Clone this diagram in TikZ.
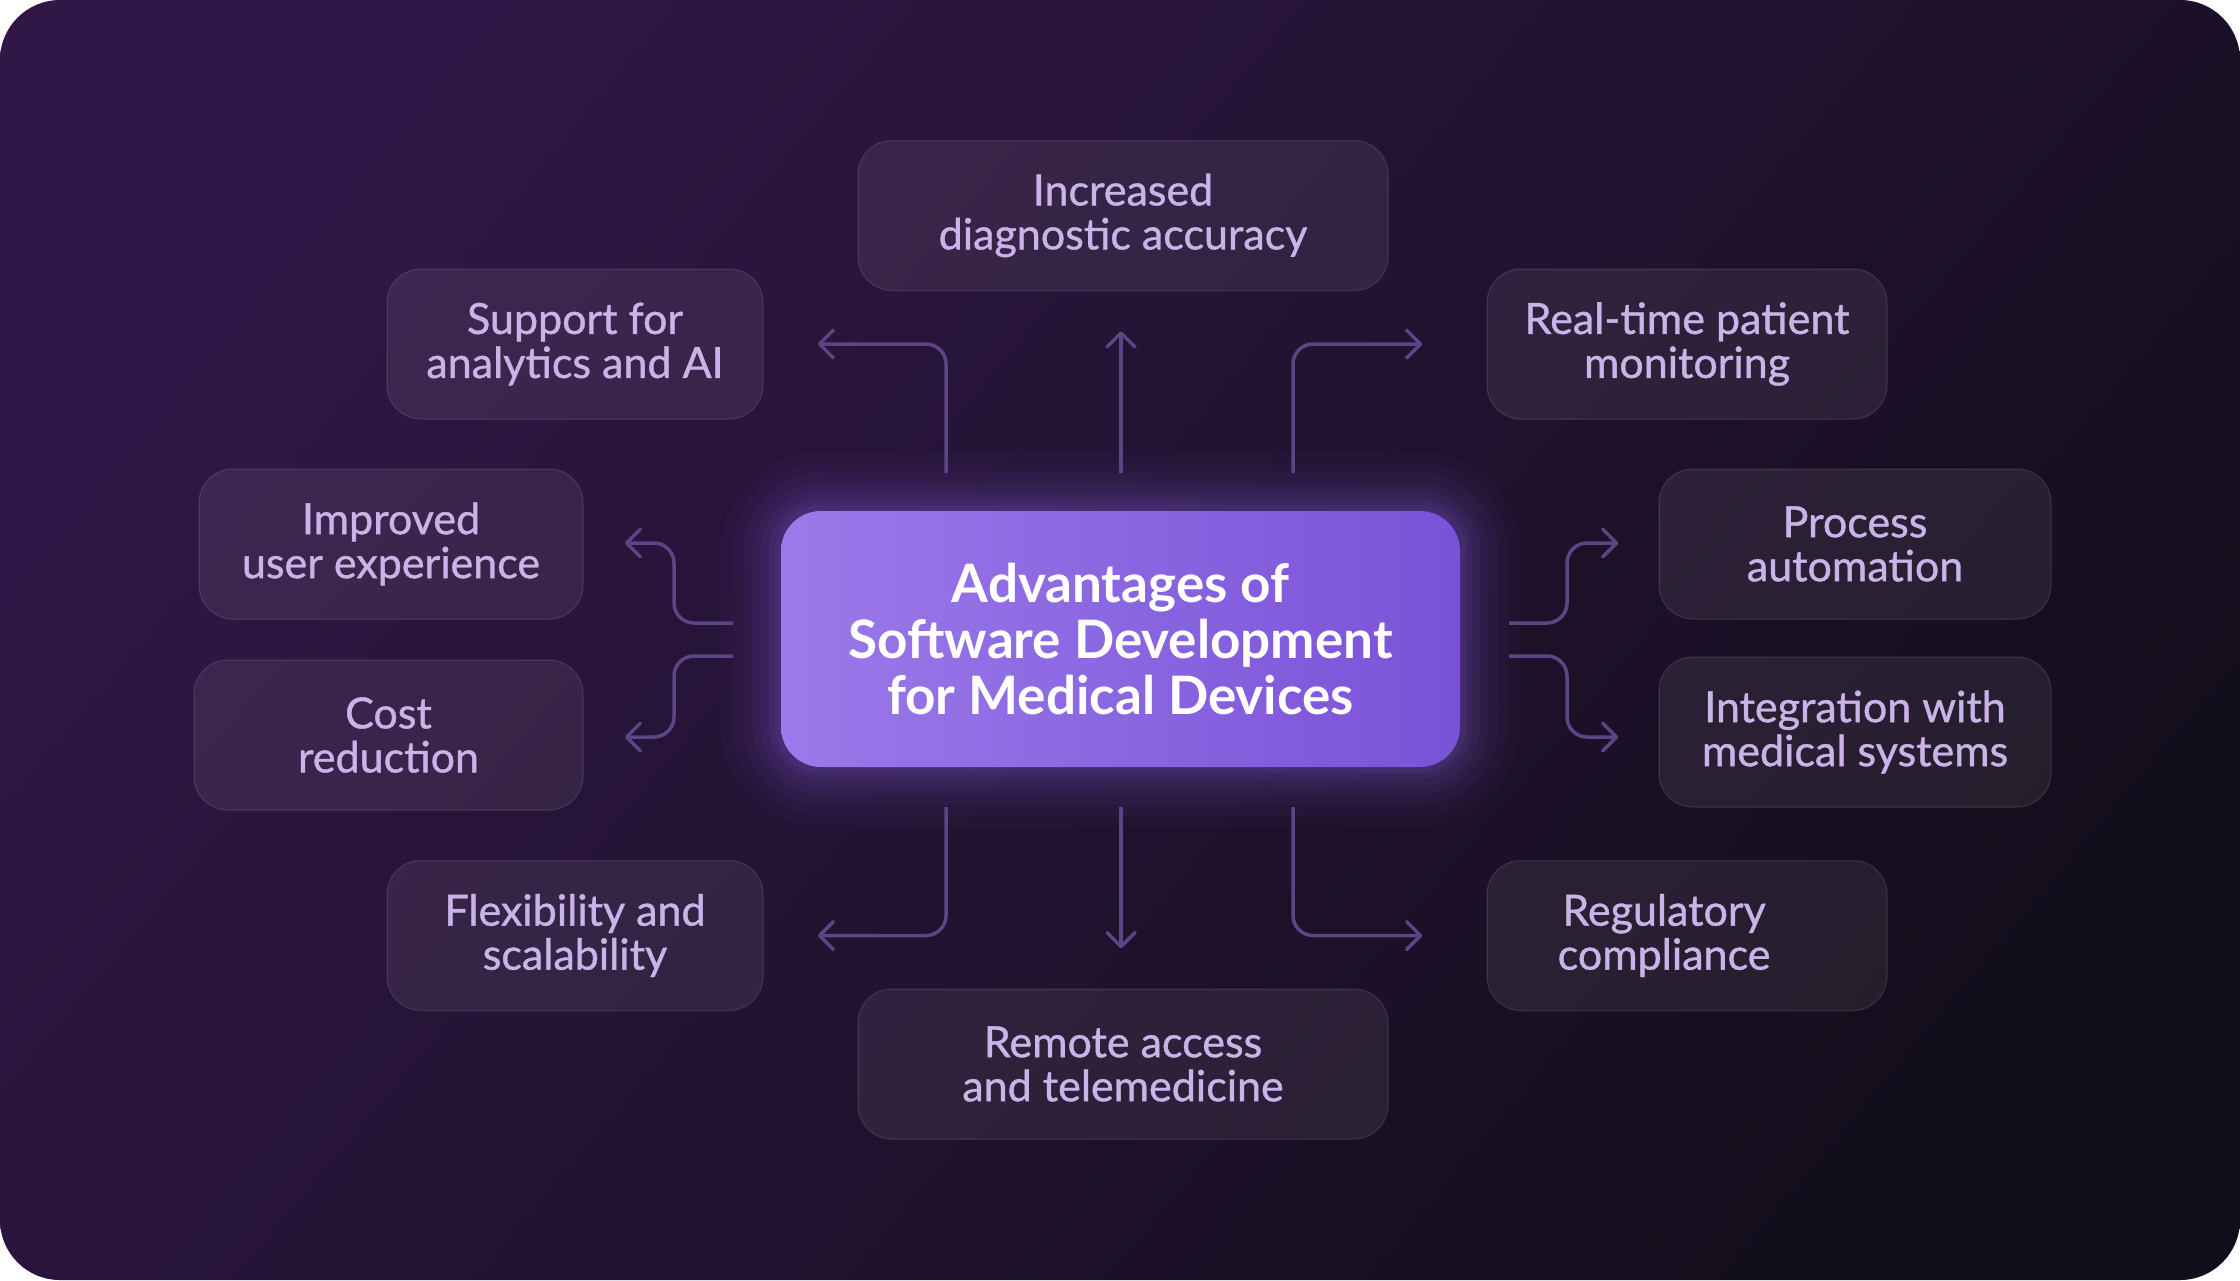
\documentclass[tikz,border=0pt]{standalone}
\usepackage{fontspec}
\setmainfont{Lato}
\newfontfamily\cardfont[FakeBold=0.9]{Lato}
\usetikzlibrary{arrows.meta,calc}
\definecolor{bgA}{HTML}{311747}
\definecolor{bgB}{HTML}{130E1C}
\definecolor{txt}{HTML}{C9B3E8}
\definecolor{arr}{HTML}{5D4585}
\definecolor{ctrL}{HTML}{9B7AEA}
\definecolor{ctrR}{HTML}{7A52D8}
\definecolor{glowc}{HTML}{8A62E6}
\tikzset{
  card/.style={rounded corners=34pt, fill=white, fill opacity=0.07,
    draw=white, draw opacity=0.09, line width=1.5pt, text opacity=1,
    text=txt, font=\cardfont\fontsize{43}{44}\selectfont, align=center,
    inner sep=0pt, minimum height=150pt},
  conn/.style={draw=arr, line width=3.5pt, rounded corners=20pt,
    -{Straight Barb[length=14pt,width=28pt,round]}},
}
\begin{document}
\begin{tikzpicture}[x=1pt,y=-1pt]
\useasboundingbox (0,0) rectangle (2240,1280);
\shade[rounded corners=60pt, top color=bgA, bottom color=bgB, shading angle=50]
  (0,0) rectangle (2240,1280);

% cards
\node[card, minimum width=530pt] (acc)  at (1123,215.5) {Increased\\diagnostic accuracy};
\node[card, minimum width=376pt] (ana)  at (575,344) {Support for\\analytics and AI};
\node[card, minimum width=400pt] (rtm)  at (1687,344) {Real-time patient\\monitoring};
\node[card, minimum width=384pt] (ux)   at (391,544) {Improved\\user experience};
\node[card, minimum width=389pt] (cost) at (388.5,735) {Cost\\reduction};
\node[card, minimum width=392pt] (pa)   at (1855,544) {Process\\automation};
\node[card, minimum width=392pt] (int)  at (1855,732) {Integration with\\medical systems};
\node[card, minimum width=376pt] (flex) at (575,935.5) {Flexibility and\\scalability};
\node[card, minimum width=400pt] (reg)  at (1687,935.5) {Regulatory\hspace*{46pt}\\compliance\hspace*{46pt}};
\node[card, minimum width=530pt] (rem)  at (1123,1064) {Remote access\\and telemedicine};

% glow
\foreach \s/\o in {60/0.03,48/0.04,38/0.05,28/0.06,20/0.07,12/0.08,6/0.09}{
  \fill[glowc, opacity=\o, rounded corners=40pt+\s]
    (781-\s,511-\s) rectangle (1460+\s,767+\s);
}
% center
\node[rounded corners=40pt, left color=ctrL, right color=ctrR,
  minimum width=679pt, minimum height=256pt, inner sep=0pt, align=center,
  text=white, font=\bfseries\fontsize{53}{56}\selectfont] (ctr) at (1120.5,639)
  {Advantages of\\Software Development\\for Medical Devices};

% connector start points
\coordinate (t1) at (946,473);
\coordinate (t2) at (1121,473);
\coordinate (t3) at (1293,473);
\coordinate (b1) at (946,807);
\coordinate (b2) at (1121,807);
\coordinate (b3) at (1293,807);
\coordinate (l1) at (733,623);
\coordinate (l2) at (733,656);
\coordinate (r1) at (1509,623);
\coordinate (r2) at (1509,656);

\draw[conn] (t1) |- ($(ana.east)+(54,0)$);
\draw[conn] (t2) -- ($(acc.south)+(-2,40)$);
\draw[conn] (t3) |- ($(rtm.west)+(-64,0)$);
\draw[conn] (b1) |- ($(flex.east)+(54,0)$);
\draw[conn] (b2) -- ($(rem.north)+(-2,-40)$);
\draw[conn] (b3) |- ($(reg.west)+(-64,0)$);
\draw[conn] (l1) -- ++(-59,0) |- ($(ux.east)+(41,-1)$);
\draw[conn] (l2) -- ++(-59,0) |- ($(cost.east)+(41,2)$);
\draw[conn] (r1) -- ++(58,0) |- ($(pa.west)+(-40,-1)$);
\draw[conn] (r2) -- ++(58,0) |- ($(int.west)+(-40,5)$);
\end{tikzpicture}
\end{document}
